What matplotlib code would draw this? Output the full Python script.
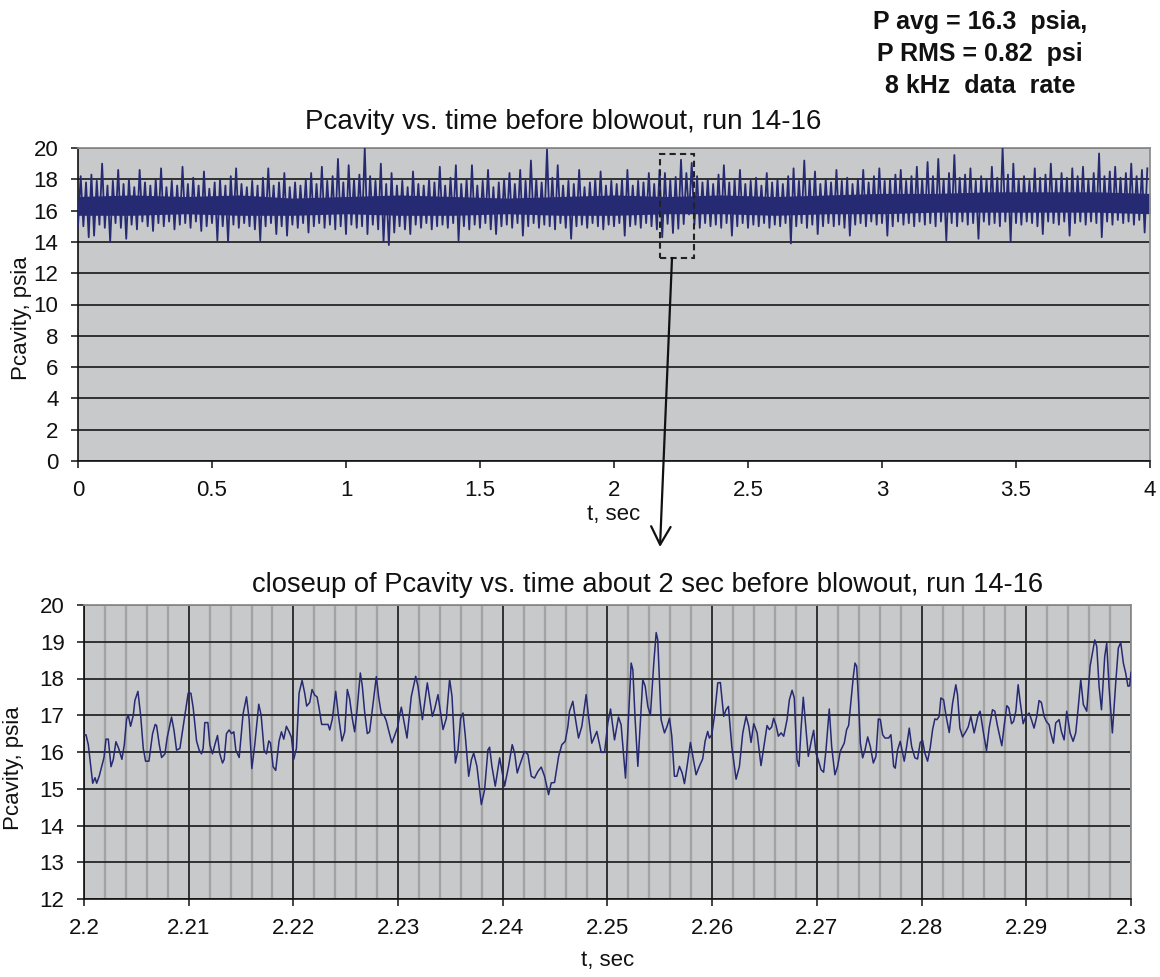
import numpy as np
import matplotlib
matplotlib.use("Agg")
import matplotlib.pyplot as plt
from matplotlib.patches import Rectangle

plt.rcParams['font.family'] = ['Liberation Sans', 'DejaVu Sans']

# ---------------- data: top chart (4 s record), envelope per 0.02 s segment ----------------
seg_dt = 0.02
top_hi = [18.2, 17.8, 18.3, 17.9, 19.0, 17.6, 17.9, 18.6, 17.7, 18.0, 17.5, 18.6, 17.8, 17.6, 18.0, 18.7, 17.5, 17.9, 17.6, 18.8,
          17.7, 18.1, 17.6, 18.5, 17.4, 17.8, 18.0, 17.6, 18.2, 18.7, 17.7, 17.5, 17.9, 17.6, 18.1, 18.7, 17.6, 17.8, 18.4, 17.5,
          17.8, 17.6, 18.0, 18.4, 17.7, 18.8, 17.9, 18.2, 19.3, 17.8, 18.9, 18.0, 18.3, 20.0, 18.2, 17.9, 19.0, 17.7, 18.4, 17.6,
          17.9, 17.5, 18.5, 17.7, 17.6, 18.0, 17.8, 18.8, 17.6, 18.1, 18.9, 17.7, 18.0, 18.9, 17.6, 17.9, 18.6, 17.5, 17.8, 18.0,
          18.4, 17.7, 18.6, 17.9, 19.2, 18.0, 17.8, 19.9, 18.1, 18.9, 17.6, 17.9, 17.7, 18.6, 17.5, 17.8, 18.0, 18.5, 17.6, 17.9,
          17.7, 18.0, 18.6, 17.6, 17.9, 17.8, 18.4, 17.7, 18.6, 18.4, 17.95, 18.15, 19.25, 18.4, 19.05, 18.2, 17.8, 18.0, 17.7, 18.3,
          18.9, 17.8, 18.0, 18.6, 17.7, 17.9, 18.1, 17.6, 18.4, 17.8, 18.0, 17.7, 18.2, 18.7, 17.9, 19.2, 18.0, 18.5, 17.7, 18.0,
          17.8, 18.6, 17.9, 18.1, 17.7, 18.0, 18.6, 17.8, 18.2, 18.7, 17.9, 18.0, 18.3, 18.6, 17.9, 18.2, 18.8, 18.0, 19.1, 18.2,
          19.3, 18.0, 18.4, 19.55, 18.1, 18.3, 18.7, 17.9, 18.2, 18.0, 18.8, 18.1, 20.0, 18.3, 19.0, 18.0, 18.2, 17.9, 18.7, 18.1,
          18.3, 19.0, 18.0, 18.4, 18.1, 18.7, 18.2, 18.8, 18.0, 18.4, 19.65, 18.2, 18.5, 18.8, 18.1, 18.4, 19.0, 18.2, 18.6, 18.7]
top_lo = [15.0, 15.0, 14.3, 14.4, 15.1, 14.9, 14.0, 15.2, 14.9, 14.2, 15.1, 14.8, 15.3, 15.0, 14.7, 15.2, 15.0, 15.3, 14.8, 15.1,
          15.2, 14.9, 15.3, 14.7, 15.0, 15.2, 14.1, 15.0, 14.0, 15.1, 14.9, 15.2, 15.0, 14.8, 14.1, 15.0, 15.2, 14.5, 15.0, 14.4,
          15.1, 14.9, 15.2, 14.6, 15.0, 15.2, 14.9, 15.1, 14.8, 15.0, 14.5, 15.1, 14.9, 15.0, 14.5, 15.1, 14.8, 14.0, 13.8, 14.6,
          15.0, 14.8, 14.5, 15.1, 14.9, 15.2, 14.8, 15.0, 15.1, 14.9, 15.2, 14.1, 15.0, 14.8, 15.1, 14.9, 15.2, 14.8, 14.5, 15.0,
          15.1, 14.9, 15.2, 14.4, 15.0, 15.2, 14.9, 15.1, 15.0, 14.8, 15.2, 14.9, 14.2, 15.0, 15.1, 14.9, 15.2, 15.0, 14.8, 15.1,
          15.0, 15.2, 14.4, 15.0, 15.1, 14.9, 15.2, 15.0, 14.8, 14.3, 15.15, 14.57, 14.84, 15.14, 15.75, 15.1, 14.9, 15.2, 15.0, 15.1,
          14.9, 15.2, 14.4, 15.0, 15.2, 14.9, 15.1, 15.0, 15.2, 14.9, 15.1, 15.0, 15.2, 13.9, 15.0, 15.2, 14.9, 15.1, 14.5, 15.0,
          15.2, 15.0, 15.1, 14.9, 14.4, 15.1, 15.2, 15.0, 15.3, 15.1, 15.2, 14.4, 15.0, 15.3, 15.1, 15.2, 15.0, 15.3, 15.1, 15.2,
          15.0, 15.3, 14.1, 15.2, 15.0, 15.3, 15.1, 15.2, 14.2, 15.3, 15.1, 15.2, 15.0, 15.3, 14.0, 15.2, 15.1, 15.3, 15.2, 15.0,
          14.5, 15.3, 15.2, 15.1, 15.3, 14.4, 15.2, 15.3, 15.1, 15.3, 15.2, 14.3, 15.3, 15.1, 15.4, 15.2, 15.3, 15.1, 15.4, 14.6]
# dense core of the band, every 0.2 s
core_t = [0.0, 0.2, 0.4, 0.6, 0.8, 1.0, 1.2, 1.4, 1.6, 1.8, 2.0, 2.2, 2.4, 2.6, 2.8, 3.0, 3.2, 3.4, 3.6, 3.8, 4.0]
core_top = [16.9, 17.0, 16.9, 17.0, 16.8, 16.9, 17.0, 16.9, 16.8, 16.9, 17.0, 16.9, 17.0, 16.9, 17.0, 17.1, 17.1, 17.2, 17.2, 17.2, 17.1]
core_bot = [15.7, 15.7, 15.8, 15.7, 15.7, 15.8, 15.7, 15.7, 15.8, 15.7, 15.7, 15.8, 15.8, 15.7, 15.8, 15.8, 15.9, 15.9, 15.9, 15.9, 15.8]

# ---------------- data: close-up 2.2 - 2.3 s (time offset in ms from 2.2 s) ----------------
close_ms = [0.00, 0.19, 0.41, 0.83, 1.05, 1.21, 1.46, 1.69, 1.91, 2.10, 2.32, 2.58, 2.80, 3.05, 3.31, 3.62, 3.85, 4.07, 4.23, 4.45,
            4.71, 4.86, 5.15, 5.41, 5.66, 5.88, 6.20, 6.55, 6.80, 6.93, 7.19, 7.41, 7.73, 7.95, 8.36, 8.59, 8.84, 9.16, 9.48, 9.79,
            9.95, 10.21, 10.43, 10.75, 11.00, 11.22, 11.38, 11.54, 11.83, 12.02, 12.27, 12.50, 12.75, 12.97, 13.23, 13.39, 13.61, 13.86, 14.09, 14.31,
            14.50, 14.82, 15.20, 15.52, 15.77, 16.03, 16.31, 16.69, 16.92, 17.20, 17.42, 17.65, 17.81, 18.06, 18.31, 18.63, 18.86, 19.08, 19.33, 19.59,
            19.81, 20.03, 20.29, 20.54, 20.83, 21.08, 21.27, 21.56, 21.78, 22.03, 22.26, 22.45, 22.70, 22.99, 23.31, 23.47, 23.72, 24.04, 24.32, 24.64,
            24.90, 25.15, 25.37, 25.63, 25.85, 26.10, 26.39, 26.58, 26.80, 27.06, 27.28, 27.60, 27.92, 28.14, 28.39, 28.65, 28.87, 29.13, 29.41, 29.67,
            29.98, 30.14, 30.31, 30.85, 31.26, 31.68, 31.90, 32.32, 32.79, 33.27, 33.49, 33.81, 34.29, 34.61, 34.92, 35.15, 35.47, 35.72, 35.97, 36.20,
            36.42, 36.74, 37.00, 37.22, 37.53, 37.95, 38.26, 38.58, 38.74, 38.96, 39.28, 39.70, 40.17, 40.55, 40.90, 41.13, 41.38, 41.60, 42.08, 42.40,
            42.72, 43.03, 43.35, 43.67, 43.99, 44.37, 44.63, 44.94, 45.33, 45.64, 45.96, 46.22, 46.37, 46.69, 46.85, 47.23, 47.55, 47.96, 48.19, 48.50,
            48.98, 49.40, 49.72, 50.03, 50.29, 50.67, 51.05, 51.30, 51.72, 52.26, 52.42, 52.64, 52.90, 53.37, 53.60, 53.85, 54.10, 54.42, 54.65, 54.80,
            55.12, 55.44, 55.69, 55.92, 56.14, 56.39, 56.62, 56.87, 57.13, 57.35, 57.60, 57.92, 58.46, 58.77, 59.09, 59.32, 59.57, 59.73, 59.96, 60.21,
            60.53, 60.78, 61.10, 61.32, 61.55, 61.87, 62.28, 62.60, 62.92, 63.24, 63.49, 63.71, 63.97, 64.29, 64.66, 64.98, 65.24, 65.46, 65.68, 65.87,
            66.10, 66.32, 66.58, 66.83, 67.15, 67.37, 67.63, 67.84, 68.10, 68.29, 68.48, 68.70, 68.96, 69.18, 69.50, 69.69, 69.91, 70.13, 70.39, 70.64,
            70.87, 71.18, 71.41, 71.72, 71.98, 72.23, 72.61, 72.84, 73.03, 73.26, 73.48, 73.64, 73.80, 73.99, 74.15, 74.37, 74.60, 74.85, 75.10, 75.39,
            75.64, 75.87, 76.06, 76.28, 76.50, 76.85, 77.07, 77.33, 77.48, 77.71, 77.96, 78.34, 78.57, 78.82, 79.05, 79.36, 79.61, 79.87, 80.09, 80.31,
            80.57, 80.82, 81.05, 81.27, 81.46, 81.68, 81.84, 82.10, 82.32, 82.64, 82.96, 83.27, 83.43, 83.66, 83.91, 84.23, 84.45, 84.70, 84.93, 85.02,
            85.40, 85.59, 85.91, 86.20, 86.45, 86.77, 86.99, 87.24, 87.66, 87.88, 88.14, 88.33, 88.59, 88.78, 89.00, 89.22, 89.41, 89.70, 89.95, 90.27,
            90.49, 90.74, 91.00, 91.22, 91.44, 91.70, 91.92, 92.18, 92.33, 92.59, 92.81, 93.13, 93.35, 93.61, 93.86, 94.18, 94.47, 94.72, 94.97, 95.20,
            95.45, 95.77, 96.09, 96.31, 96.54, 96.73, 96.95, 97.18, 97.49, 97.68, 97.90, 98.22, 98.54, 98.79, 99.02, 99.27, 99.49, 99.71, 99.87, 100.00]
close_p = [16.45, 16.47, 16.2, 15.15, 15.3, 15.15, 15.35, 15.6, 15.85, 16.35, 16.35, 15.6, 15.8, 16.28, 16.1, 15.8, 16.2, 16.9, 17.0, 16.7,
           17.0, 17.4, 17.65, 17.0, 16.1, 15.75, 15.75, 16.5, 16.75, 16.72, 16.2, 15.85, 15.95, 16.4, 16.95, 16.6, 16.05, 16.1, 16.7, 17.3,
           17.6, 17.6, 17.2, 16.3, 16.05, 15.95, 16.1, 16.8, 16.8, 16.2, 15.95, 16.2, 16.45, 15.95, 15.7, 15.8, 16.5, 16.6, 16.5, 16.55,
           16.05, 15.85, 17.05, 17.5, 16.9, 15.55, 16.2, 17.3, 17.0, 16.05, 15.95, 16.3, 16.25, 15.6, 15.5, 16.3, 16.55, 16.35, 16.7, 16.55,
           16.4, 15.8, 16.1, 17.6, 17.95, 17.6, 17.25, 17.35, 17.7, 17.55, 17.5, 17.2, 16.75, 16.75, 16.75, 16.6, 16.9, 17.65, 16.95, 16.3,
           16.55, 17.7, 17.45, 16.9, 16.55, 17.2, 18.15, 17.8, 17.1, 16.5, 16.55, 17.3, 18.05, 17.5, 17.05, 17.0, 16.85, 16.55, 16.25, 16.45,
           16.7, 17.0, 17.22, 16.38, 17.51, 18.06, 17.79, 16.88, 17.88, 16.97, 17.17, 17.56, 16.61, 16.92, 17.98, 17.51, 15.70, 16.06, 16.92, 17.06,
           16.43, 15.34, 15.79, 15.97, 15.61, 14.57, 14.97, 16.06, 16.13, 15.61, 15.07, 15.84, 15.07, 15.61, 16.20, 15.97, 15.43, 15.63, 16.02, 15.93,
           15.34, 15.29, 15.47, 15.59, 15.34, 14.84, 15.16, 15.17, 15.88, 16.20, 16.29, 16.70, 17.11, 17.38, 17.06, 16.38, 16.70, 17.56, 16.97, 16.24,
           16.56, 15.99, 15.99, 16.79, 17.17, 16.33, 16.95, 16.74, 15.29, 18.42, 18.24, 16.88, 15.61, 17.97, 17.79, 17.24, 17.01, 18.42, 19.25, 19.05,
           16.88, 16.52, 16.70, 16.92, 16.43, 15.34, 15.34, 15.61, 15.43, 15.14, 15.61, 16.26, 15.38, 15.61, 15.81, 16.29, 16.56, 16.38, 16.47, 16.97,
           17.88, 17.89, 16.97, 17.15, 17.24, 16.15, 15.26, 15.61, 16.52, 16.97, 16.70, 16.26, 16.77, 16.52, 15.63, 16.24, 16.72, 16.61, 16.68, 16.92,
           16.72, 16.43, 16.52, 16.43, 16.88, 17.42, 17.68, 17.47, 15.79, 15.61, 16.61, 17.49, 16.61, 15.88, 16.35, 16.59, 15.97, 15.79, 15.52, 15.45,
           16.06, 17.17, 16.15, 15.38, 15.61, 16.02, 16.24, 16.61, 16.72, 17.42, 18.06, 18.42, 18.33, 17.33, 16.24, 15.84, 16.06, 16.41, 16.15, 15.70,
           15.88, 16.90, 16.88, 16.47, 16.38, 16.38, 16.47, 15.61, 15.56, 16.06, 16.29, 15.75, 16.15, 16.65, 16.15, 15.84, 15.81, 16.26, 16.32, 15.97,
           15.75, 16.11, 16.61, 16.90, 16.88, 16.97, 17.47, 17.42, 17.01, 16.53, 17.33, 17.83, 17.56, 16.65, 16.41, 16.56, 16.68, 16.97, 16.65, 16.52,
           17.01, 17.11, 16.52, 16.04, 16.65, 17.15, 17.11, 16.72, 16.17, 16.70, 17.26, 17.20, 16.77, 16.83, 17.11, 17.83, 17.38, 16.77, 16.97, 17.06,
           16.88, 16.65, 16.97, 17.40, 17.35, 16.97, 16.83, 16.74, 16.52, 16.24, 16.79, 16.88, 16.56, 16.33, 17.11, 16.52, 16.29, 16.52, 17.24, 17.97,
           17.29, 17.11, 18.33, 18.69, 19.05, 18.87, 17.79, 17.15, 18.60, 18.96, 17.79, 16.52, 17.88, 18.83, 18.98, 18.42, 18.15, 17.79, 17.80, 18.17]

top_title = "Pcavity vs. time before blowout, run 14-16"
bot_title = "closeup of Pcavity vs. time about 2 sec before blowout, run 14-16"
note_lines = ["P avg = 16.3  psia,", "P RMS = 0.82  psi", "8 kHz  data  rate"]
top_xticks = [0, 0.5, 1, 1.5, 2, 2.5, 3, 3.5, 4]
top_xticklabels = ["0", "0.5", "1", "1.5", "2", "2.5", "3", "3.5", "4"]
top_yticks = list(range(0, 21, 2))
bot_xticks = [2.2, 2.21, 2.22, 2.23, 2.24, 2.25, 2.26, 2.27, 2.28, 2.29, 2.3]
bot_xticklabels = ["2.2", "2.21", "2.22", "2.23", "2.24", "2.25", "2.26", "2.27", "2.28", "2.29", "2.3"]
bot_yticks = list(range(12, 21))
zoom_box = (2.17, 12.97, 0.13, 6.65)   # t0, p0, width, height

# ---------------- figure ----------------
W, H = 1160, 977
fig = plt.figure(figsize=(W / 100, H / 100), dpi=100)
fig.patch.set_facecolor('white')

BG = '#c8c9cb'
LINE = '#262a72'
GRID = '#262626'


def px_axes(l, t, r, b):
    return fig.add_axes([l / W, 1 - b / H, (r - l) / W, (b - t) / H])


def style(ax):
    ax.set_facecolor(BG)
    for s in ['left', 'bottom']:
        ax.spines[s].set_color('#111111')
        ax.spines[s].set_linewidth(1.2)
    for s in ['top', 'right']:
        ax.spines[s].set_color('#8e8e8e')
        ax.spines[s].set_linewidth(1.3)
    ax.tick_params(direction='out', length=5, width=1.1, color='#111111',
                   labelsize=16, labelcolor='#111111', pad=9)
    ax.set_axisbelow(True)


# top chart
ax1 = px_axes(78, 148, 1150, 461)
style(ax1)
n = len(top_hi)
zig_t, zig_p = [], []
for i in range(n):
    zig_t += [i * seg_dt, i * seg_dt + seg_dt / 2]
    zig_p += [top_lo[i], top_hi[i]]
ax1.fill_between(core_t, core_bot, core_top, color=LINE, lw=0, zorder=2)
ax1.plot(zig_t, zig_p, color=LINE, lw=1.3, zorder=3)
ax1.set_xlim(0, 4)
ax1.set_ylim(0, 20)
ax1.set_xticks(top_xticks)
ax1.set_xticklabels(top_xticklabels)
ax1.set_yticks(top_yticks)
ax1.yaxis.grid(True, color=GRID, lw=1.3)
ax1.xaxis.grid(False)
ax1.add_patch(Rectangle((zoom_box[0], zoom_box[1]), zoom_box[2], zoom_box[3],
                        fill=False, ec='#222222', lw=1.5, ls=(0, (3, 2)), zorder=5))

# bottom chart
ax2 = px_axes(84, 605, 1131, 899)
style(ax2)
close_t = 2.2 + np.array(close_ms) / 1000.0
ax2.plot(close_t, close_p, color=LINE, lw=1.1, zorder=3)
ax2.set_xlim(2.2, 2.3)
ax2.set_ylim(12, 20)
ax2.set_xticks(bot_xticks)
ax2.set_xticklabels(bot_xticklabels)
ax2.set_xticks(np.arange(2.202, 2.3, 0.002), minor=True)
ax2.tick_params(axis='x', which='minor', length=0)
ax2.set_yticks(bot_yticks)
ax2.xaxis.grid(True, which='minor', color='#a3a3a3', lw=1.7)
ax2.xaxis.grid(True, which='major', color=GRID, lw=1.3)
ax2.yaxis.grid(True, color=GRID, lw=1.3)

# texts (figure pixel placement)
def ftext(x, y, s, **kw):
    fig.text(x / W, 1 - y / H, s, **kw)

ftext(563, 129, top_title, ha='center', va='baseline', fontsize=20, color='#111111')
ftext(648, 592, bot_title, ha='center', va='baseline', fontsize=19.7, color='#111111')
for i, s in enumerate(note_lines):
    ftext(980, 29 + 32 * i, s, ha='center', va='baseline', fontsize=18, fontweight='bold', color='#111111')
ftext(614, 520, "t, sec", ha='center', va='baseline', fontsize=16, color='#111111')
ftext(608, 966, "t, sec", ha='center', va='baseline', fontsize=16, color='#111111')
ftext(22, 318, "Pcavity, psia", ha='center', va='center', rotation=90, fontsize=16, color='#111111')
ftext(14, 768, "Pcavity, psia", ha='center', va='center', rotation=90, fontsize=16, color='#111111')

# arrow from box to closeup
fig.add_artist(matplotlib.patches.FancyArrowPatch(
    (672 / W, 1 - 258 / H), (660 / W, 1 - 547 / H), transform=fig.transFigure,
    arrowstyle='->,head_length=0.65,head_width=0.35', mutation_scale=20,
    lw=1.6, color='#111111', shrinkA=0, shrinkB=0))

fig.savefig('out.png', dpi=100)
